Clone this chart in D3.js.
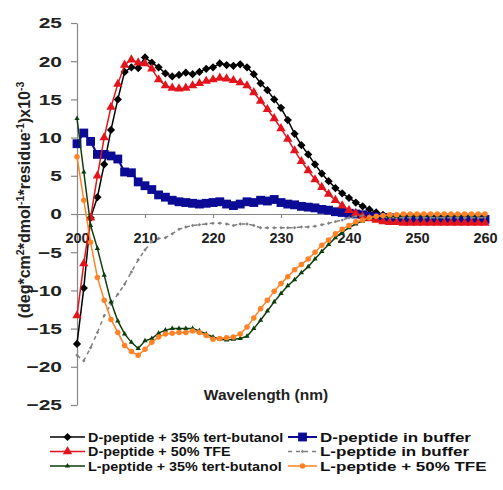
<!DOCTYPE html>
<html>
<head>
<meta charset="utf-8">
<script src="https://cdn.jsdelivr.net/npm/d3@7"></script>
<style>
  body { margin: 0; background: #fff; }
  text { font-family: Arial, "Liberation Sans", sans-serif; font-weight: bold; }
</style>
</head>
<body>
<div id="chart"></div>
<script>
const wavelengths = d3.range(200, 261);

const dTertButanol = [-17, -9.7, -0.5, 2.2, 6.5, 11, 15, 18.6, 19.2, 19.1, 20.5, 19.8, 19.2, 18.4, 18, 18.2, 18.5, 18.3, 18.6, 19,
  19.2, 19.7, 19.5, 19.4, 19.6, 19.2, 18.3, 17.1, 16.2, 15, 13.9, 12.3, 10.5, 9, 7.8, 6.5, 5.3, 4.3, 3.4, 2.7,
  2.1, 1.5, 1.0, 0.6, 0.2, -0.1, -0.3, -0.5, -0.6, -0.7, -0.7, -0.7, -0.8, -0.8, -0.8, -0.8, -0.8, -0.8, -0.8, -0.8, -0.8];
const dBuffer = [9.2, 10.6, 9.5, 7.8, 7.8, 7.6, 7.2, 5.5, 5.4, 4.2, 3.7, 3.2, 2.5, 2.2, 1.8, 1.6, 1.5, 1.4, 1.3, 1.4,
  1.5, 1.6, 1.3, 1.1, 1.3, 1.6, 1.5, 1.8, 1.7, 1.9, 1.5, 1.3, 1.2, 1.0, 0.9, 0.8, 0.6, 0.5, 0.3, 0.2,
  0.1, 0, -0.1, -0.3, -0.4, -0.5, -0.5, -0.6, -0.6, -0.6, -0.7, -0.7, -0.7, -0.7, -0.7, -0.7, -0.7, -0.7, -0.7, -0.7, -0.7];
const dTFE = [-13.3, -6.5, -0.5, 5, 10, 14, 17, 19.5, 20.2, 19.8, 19.7, 19.0, 17.6, 16.8, 16.5, 16.4, 16.5, 16.8, 17.1, 17.4,
  17.6, 17.8, 17.7, 17.5, 17.2, 16.8, 15.9, 14.8, 13.7, 12.5, 11.2, 9.8, 8.3, 6.9, 5.7, 4.5, 3.5, 2.6, 1.8, 1.1,
  0.5, 0.1, -0.3, -0.6, -0.8, -1.0, -1.1, -1.1, -1.2, -1.2, -1.2, -1.2, -1.2, -1.2, -1.2, -1.2, -1.2, -1.2, -1.2, -1.2, -1.2];
const lBuffer = [-18.5, -19.2, -17.5, -15.5, -13.3, -11.8, -10.5, -9.2, -7.6, -6.0, -4.7, -3.6, -3.2, -3.1, -2.6, -2.0, -1.7, -1.5, -1.4, -1.3,
  -1.2, -1.2, -1.3, -1.5, -1.3, -1.3, -1.5, -1.8, -1.8, -1.8, -1.8, -1.8, -1.8, -1.7, -1.7, -1.6, -1.4, -1.2, -1.0, -0.8,
  -0.5, -0.3, -0.2, -0.3, -0.4, -0.4, -0.5, -0.5, -0.5, -0.5, -0.5, -0.5, -0.5, -0.5, -0.5, -0.5, -0.5, -0.5, -0.5, -0.5, -0.5];
const lTertButanol = [12.5, 5.5, -1.5, -4.5, -8, -11.5, -14, -15.7, -16.8, -17.6, -16.6, -16.3, -15.6, -15.2, -15, -15, -15, -15, -15.3, -15.7,
  -16.1, -16.4, -16.5, -16.4, -16.3, -16, -15, -13.9, -12.7, -11.5, -10.4, -9.4, -8.6, -7.7, -6.9, -5.9, -4.9, -4.0, -3.1, -2.4,
  -1.8, -1.3, -0.9, -0.6, -0.4, -0.3, -0.3, -0.3, -0.2, -0.2, -0.2, -0.2, -0.2, -0.2, -0.2, -0.2, -0.2, -0.2, -0.2, -0.2, -0.2];
const lTFE = [7.5, 1.8, -3.7, -8.3, -11.3, -13.8, -15.5, -17.2, -18, -18.5, -17.7, -16.8, -16.1, -15.7, -15.6, -15.5, -15.5, -15.3, -15.5, -15.9,
  -16.4, -16.3, -16.2, -16.1, -15.7, -14.8, -13.6, -12.4, -11.3, -10.1, -9.1, -8.2, -7.3, -6.6, -5.9, -5.0, -4.1, -3.4, -2.6, -2.0,
  -1.5, -1.0, -0.8, -0.5, -0.3, -0.2, -0.1, -0.1, 0, 0, 0, 0, 0, 0, 0, 0, 0, 0, 0, 0, 0];

const xTicks = [200, 210, 220, 230, 240, 250, 260];
const yTicks = [-25, -20, -15, -10, -5, 0, 5, 10, 15, 20, 25];

// drawing order follows the legend (row-major)
const series = [
  { name: "D-peptide + 35% tert-butanol", values: dTertButanol, color: "#000000", symbol: "diamond", size: 34, width: 1.5 },
  { name: "D-peptide in buffer", values: dBuffer, color: "#0b0b96", symbol: "square", size: 78, width: 2 },
  { name: "D-peptide + 50% TFE", values: dTFE, color: "#e3141c", symbol: "triangle", size: 38, width: 1.5 },
  { name: "L-peptide in buffer", values: lBuffer, color: "#808080", symbol: "diamond", size: 6, width: 1.5, dash: "4,4" },
  { name: "L-peptide + 35% tert-butanol", values: lTertButanol, color: "#0d3d0d", symbol: "triangle", size: 12, width: 1.5 },
  { name: "L-peptide + 50% TFE", values: lTFE, color: "#ff8326", symbol: "circle", size: 24, width: 1.5 }
];

const W = 503, H = 490;
const svg = d3.select("#chart").append("svg")
  .attr("width", W)
  .attr("height", H);

const x = d3.scaleLinear().domain([200, 260]).range([77, 485]);
const y = d3.scaleLinear().domain([-25, 25]).range([405, 23]);

const symbolTypes = { diamond: d3.symbolSquare, square: d3.symbolSquare, triangle: d3.symbolTriangle, circle: d3.symbolCircle };

// y axis (labels are drawn wide in the original, so stretch them a bit)
const yAxis = svg.append("g")
  .attr("transform", `translate(${x(200)},0)`)
  .call(d3.axisLeft(y).tickValues(yTicks).tickSize(6).tickSizeOuter(0));
yAxis.select(".domain").attr("stroke", "#888").attr("stroke-width", 1.2);
yAxis.selectAll(".tick line").attr("stroke", "#888").attr("stroke-width", 1.2);
yAxis.selectAll(".tick text")
  .attr("x", 0)
  .attr("transform", "translate(-15,0) scale(1.4,1)")
  .attr("fill", "#222")
  .style("font-size", "15px")
  .style("font-family", "Arial, 'Liberation Sans', sans-serif");

// x axis at zero
const xAxis = svg.append("g")
  .attr("transform", `translate(0,${y(0)})`)
  .call(d3.axisBottom(x).tickValues(xTicks).tickSize(4).tickSizeOuter(0).tickPadding(15));
xAxis.select(".domain").attr("stroke", "#888").attr("stroke-width", 1.2);
xAxis.selectAll(".tick line").attr("stroke", "#888").attr("stroke-width", 1.2);
xAxis.selectAll(".tick text")
  .attr("fill", "#222")
  .style("font-size", "14.5px")
  .style("font-family", "Arial, 'Liberation Sans', sans-serif");

// series
const line = d3.line().x((d, i) => x(wavelengths[i])).y(d => y(d));

series.forEach(s => {
  const g = svg.append("g");
  g.append("path")
    .datum(s.values)
    .attr("fill", "none")
    .attr("stroke", s.color)
    .attr("stroke-width", s.width)
    .attr("stroke-dasharray", s.dash || null)
    .attr("d", line);
  g.selectAll("path.mark")
    .data(s.values)
    .join("path")
    .attr("class", "mark")
    .attr("d", d3.symbol().type(symbolTypes[s.symbol]).size(s.size))
    .attr("transform", (d, i) => `translate(${x(wavelengths[i])},${y(d)})` + (s.symbol === "diamond" ? " rotate(45)" : ""))
    .attr("fill", s.color);
});

// axis titles
svg.append("text")
  .attr("x", 266)
  .attr("y", 400)
  .attr("text-anchor", "middle")
  .attr("fill", "#222")
  .style("font-size", "15.5px")
  .text("Wavelength (nm)");

const yTitle = svg.append("text")
  .attr("transform", "translate(30,200) rotate(-90)")
  .attr("text-anchor", "middle")
  .attr("fill", "#222")
  .style("font-size", "16px");
const titleParts = [
  ["(deg*cm", false], ["2", true], ["*dmol", false], ["-1", true],
  ["*residue", false], ["-1", true], [")x10", false], ["-3", true]
];
titleParts.forEach(([t, sup]) => {
  yTitle.append("tspan")
    .attr("baseline-shift", sup ? "super" : null)
    .style("font-size", sup ? "10.5px" : null)
    .text(t);
});

// legend
const legendCols = [{ x: 50, len: 35, tx: 38, fs: 12.5, sx: 1.15 }, { x: 288, len: 29, tx: 32, fs: 12.5, sx: 1.36 }];
const legendRows = [437, 451.5, 466];
const legend = svg.append("g");
series.forEach((s, i) => {
  const col = legendCols[i % 2];
  const ly = legendRows[Math.floor(i / 2)];
  const g = legend.append("g").attr("transform", `translate(${col.x},${ly})`);
  g.append("line")
    .attr("x1", 0).attr("x2", col.len)
    .attr("stroke", s.color)
    .attr("stroke-width", s.width)
    .attr("stroke-dasharray", s.dash || null);
  g.append("path")
    .attr("d", d3.symbol().type(symbolTypes[s.symbol]).size(s.size))
    .attr("transform", `translate(${col.len / 2},0)` + (s.symbol === "diamond" ? " rotate(45)" : ""))
    .attr("fill", s.color);
  g.append("text")
    .attr("transform", `translate(${col.tx},0) scale(${col.sx},1)`)
    .attr("dy", "0.36em")
    .attr("fill", "#111")
    .style("font-size", col.fs + "px")
    .text(s.name);
});
</script>
</body>
</html>
